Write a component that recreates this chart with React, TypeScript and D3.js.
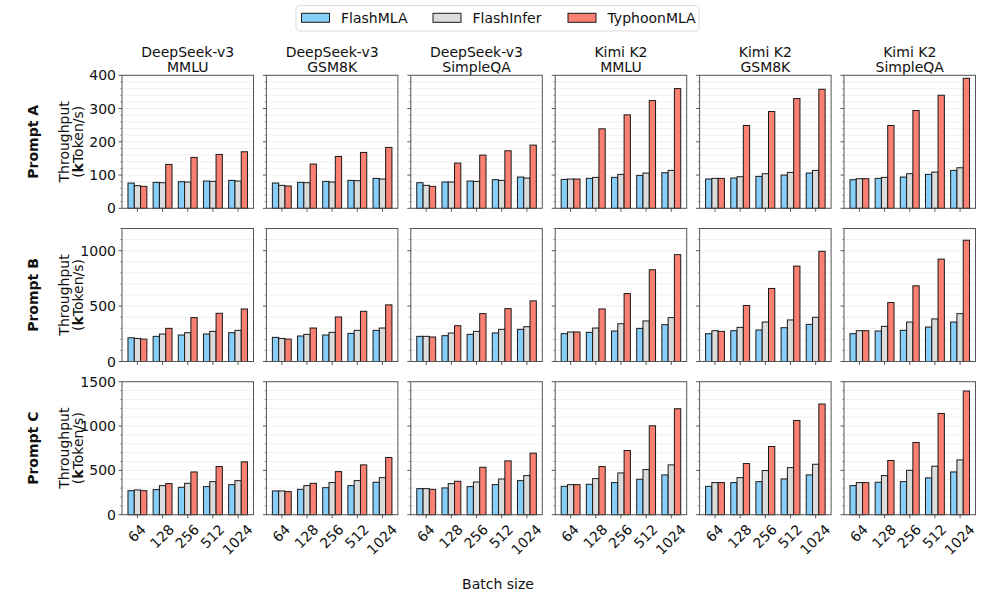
import * as d3 from "d3";

const W = 996;
const H = 598;

const batchSizes = ["64", "128", "256", "512", "1024"];
const models = ["DeepSeek-v3", "DeepSeek-v3", "DeepSeek-v3", "Kimi K2", "Kimi K2", "Kimi K2"];
const datasets = ["MMLU", "GSM8K", "SimpleQA", "MMLU", "GSM8K", "SimpleQA"];
const prompts = ["Prompt A", "Prompt B", "Prompt C"];
const seriesNames = ["FlashMLA", "FlashInfer", "TyphoonMLA"];
const seriesColors = ["#87CEFA", "#DCDCDC", "#FA8072"];

// [column][batch] in kToken/s
const flashMlaA = [
  [76, 78, 80, 82, 84],
  [76, 78, 81, 84, 90],
  [77, 79, 82, 86, 94],
  [87, 90, 93, 99, 107],
  [88, 91, 96, 100, 106],
  [86, 90, 94, 102, 114],
];
const flashInferA = [
  [68, 77, 79, 81, 82],
  [69, 77, 79, 83, 88],
  [69, 79, 81, 84, 91],
  [88, 93, 102, 106, 114],
  [90, 95, 104, 108, 114],
  [89, 93, 104, 109, 122],
];
const typhoonA = [
  [66, 132, 153, 162, 170],
  [67, 133, 156, 168, 183],
  [66, 136, 160, 173, 190],
  [88, 239, 281, 324, 360],
  [90, 249, 291, 330, 358],
  [89, 249, 294, 340, 391],
];

const flashMlaB = [
  [214, 227, 239, 248, 260],
  [218, 230, 239, 254, 281],
  [227, 233, 245, 258, 290],
  [251, 263, 275, 299, 332],
  [251, 278, 284, 305, 335],
  [251, 275, 281, 311, 356],
];
const flashInferB = [
  [208, 248, 260, 272, 281],
  [208, 245, 263, 281, 302],
  [227, 257, 272, 290, 314],
  [266, 302, 341, 366, 396],
  [278, 308, 356, 375, 399],
  [278, 317, 356, 384, 432],
];
const typhoonB = [
  [202, 299, 396, 435, 474],
  [202, 302, 402, 453, 511],
  [221, 323, 432, 477, 547],
  [266, 474, 613, 828, 964],
  [272, 505, 659, 861, 994],
  [278, 532, 683, 924, 1094],
];

const flashMlaC = [
  [271, 283, 309, 317, 339],
  [268, 286, 305, 328, 366],
  [294, 302, 317, 339, 384],
  [320, 343, 362, 400, 449],
  [320, 362, 373, 403, 449],
  [328, 366, 373, 415, 482],
];
const flashInferC = [
  [279, 328, 354, 373, 384],
  [268, 328, 362, 384, 418],
  [294, 351, 369, 403, 441],
  [339, 407, 471, 509, 562],
  [362, 418, 498, 531, 569],
  [362, 441, 501, 547, 618],
];
const typhoonC = [
  [271, 351, 482, 543, 596],
  [260, 354, 486, 562, 645],
  [286, 377, 535, 607, 694],
  [339, 543, 724, 1003, 1195],
  [362, 577, 769, 1063, 1248],
  [362, 611, 814, 1142, 1395],
];

const rowSeries = [
  [flashMlaA, flashInferA, typhoonA],
  [flashMlaB, flashInferB, typhoonB],
  [flashMlaC, flashInferC, typhoonC],
];
const yMax = [400, 1200, 1500];
const yMajor = [100, 500, 500];
const yMinor = [20, 100, 100];

const PANEL_LEFT = 122;
const PANEL_STEP_X = 144.4;
const PANEL_W = 131.5;
const PANEL_TOP = 75.3;
const PANEL_STEP_Y = 153.2;
const PANEL_H = 133;
const BAR_W = 0.25;
const FONT = "DejaVu Sans, sans-serif";
const FS = 14;

const Panel = ({ row, col }: { row: number; col: number }) => {
  const x0 = PANEL_LEFT + col * PANEL_STEP_X;
  const y0 = PANEL_TOP + row * PANEL_STEP_Y;
  const pad = (5 - 1 + 3 * BAR_W) * 0.05;
  const xScale = d3
    .scaleLinear()
    .domain([-1.5 * BAR_W - pad, 4 + 1.5 * BAR_W + pad])
    .range([x0, x0 + PANEL_W]);
  const yScale = d3.scaleLinear().domain([0, yMax[row]]).range([y0 + PANEL_H, y0]);
  const majors = d3.range(0, yMax[row] + 1, yMajor[row]);
  const minors = d3.range(0, yMax[row] + 1, yMinor[row]).filter((v) => v % yMajor[row] !== 0);
  const series = rowSeries[row];

  return (
    <g>
      {[...majors, ...minors].map((v) => (
        <line key={"g" + v} x1={x0} x2={x0 + PANEL_W} y1={yScale(v)} y2={yScale(v)} stroke="#eeeeee" strokeWidth={0.8} />
      ))}
      {series.map((s, si) =>
        s[col].map((v, bi) => {
          const cx = xScale(bi + (si - 1) * BAR_W);
          const bw = xScale(BAR_W) - xScale(0);
          return (
            <rect
              key={si + "-" + bi}
              x={cx - bw / 2}
              y={yScale(v)}
              width={bw}
              height={yScale(0) - yScale(v)}
              fill={seriesColors[si]}
              stroke="#1a1a1a"
              strokeWidth={1}
            />
          );
        })
      )}
      <rect x={x0} y={y0} width={PANEL_W} height={PANEL_H} fill="none" stroke="#555" strokeWidth={1} />
      {majors.map((v) => (
        <g key={"m" + v}>
          <line x1={x0 - 3.5} x2={x0} y1={yScale(v)} y2={yScale(v)} stroke="#444" strokeWidth={0.9} />
          {col === 0 && (
            <text x={x0 - 6} y={yScale(v)} dy="0.36em" textAnchor="end" fontSize={FS} fontFamily={FONT} fill="#111">
              {v}
            </text>
          )}
        </g>
      ))}
      {minors.map((v) => (
        <line key={"n" + v} x1={x0 - 2} x2={x0} y1={yScale(v)} y2={yScale(v)} stroke="#666" strokeWidth={0.6} />
      ))}
      {batchSizes.map((b, bi) => (
        <line key={"x" + b} x1={xScale(bi)} x2={xScale(bi)} y1={y0 + PANEL_H} y2={y0 + PANEL_H + 3.5} stroke="#444" strokeWidth={0.9} />
      ))}
      {row === 2 &&
        batchSizes.map((b, bi) => {
          const w = b.length * 0.636 * FS;
          const h = 1.17 * FS;
          const cy = y0 + PANEL_H + 7 + ((w + h) * Math.SQRT1_2) / 2;
          return (
            <text
              key={"xl" + b}
              transform={`translate(${xScale(bi)},${cy}) rotate(-45)`}
              dy="0.3em"
              textAnchor="middle"
              fontSize={FS}
              fontFamily={FONT}
              fill="#111"
            >
              {b}
            </text>
          );
        })}
      {row === 0 && (
        <g fontSize={FS} fontFamily={FONT} fill="#111" textAnchor="middle">
          <text x={x0 + PANEL_W / 2} y={57}>{models[col]}</text>
          <text x={x0 + PANEL_W / 2} y={71.5}>{datasets[col]}</text>
        </g>
      )}
    </g>
  );
};

const Legend = () => {
  const items = [301.5, 433, 568];
  return (
    <g fontSize={FS} fontFamily={FONT} fill="#111">
      <rect x={296} y={5.5} width={403} height={25.5} rx={3} fill="#fff" stroke="#dcdcdc" strokeWidth={1} />
      {seriesNames.map((name, i) => (
        <g key={name}>
          <rect x={items[i]} y={13.3} width={28} height={9} fill={seriesColors[i]} stroke="#1a1a1a" strokeWidth={1} />
          <text x={items[i] + 39.5} y={23}>{name}</text>
        </g>
      ))}
    </g>
  );
};

export default function App() {
  return (
    <svg width={W} height={H} style={{ position: "absolute", left: 0, top: 0, background: "#fff" }}>
      <rect width={W} height={H} fill="#fff" />
      <Legend />
      {prompts.map((p, r) => {
        const cy = PANEL_TOP + r * PANEL_STEP_Y + PANEL_H / 2;
        return (
          <g key={p}>
            {models.map((_, c) => (
              <Panel key={c} row={r} col={c} />
            ))}
            <text transform={`translate(37.5,${cy}) rotate(-90)`} textAnchor="middle" fontSize={FS} fontWeight="bold" fontFamily={FONT} fill="#111">
              {p}
            </text>
            <text transform={`translate(69,${cy}) rotate(-90)`} textAnchor="middle" fontSize={FS} fontFamily={FONT} fill="#111">
              Throughput
            </text>
            <text transform={`translate(82.5,${cy}) rotate(-90)`} textAnchor="middle" fontSize={FS} fontFamily={FONT} fill="#111">
              (<tspan fontWeight="bold">k</tspan>Token/s)
            </text>
          </g>
        );
      })}
      <text x={498} y={589} textAnchor="middle" fontSize={FS} fontFamily={FONT} fill="#111">
        Batch size
      </text>
    </svg>
  );
}
